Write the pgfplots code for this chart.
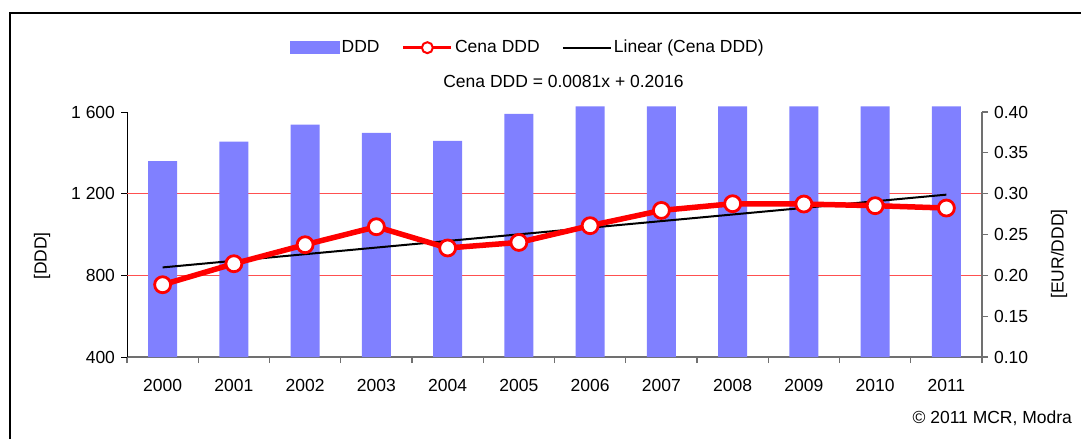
\documentclass[border=0pt]{standalone}
\usepackage{fontspec}
\setmainfont{Liberation Sans}
\usepackage{pgfplots}
\pgfplotsset{compat=1.18}
\definecolor{barblue}{HTML}{8080FF}
\definecolor{gridred}{HTML}{FF5050}
\definecolor{axgray}{HTML}{707070}
\begin{document}
\fontsize{17.5}{21}\selectfont
\begin{tikzpicture}
\pgfplotsset{
  base/.style={at={(127pt,-357pt)}, anchor=south west, scale only axis,
    width=855pt, height=245pt, xmin=-0.5, xmax=11.5, clip=false,
    tick align=outside, major tick length=6pt, axis line style={-}},
}
\begin{axis}[base, ymin=400, ymax=1600,
  axis y line*=left, axis x line*=bottom,
  ytick={400,800,1200,1600}, yticklabels={400,800,1 200,1 600},
  y axis line style={black, line width=1pt},
  every y tick/.style={black, line width=1pt},
  xtick={-0.5,0.5,...,11.5}, x tick label as interval,
  xticklabels={2000,2001,2002,2003,2004,2005,2006,2007,2008,2009,2010,2011},
  x axis line style={axgray, line width=1.2pt},
  every x tick/.style={axgray, line width=1.2pt},
  xticklabel style={yshift=-10pt},
]
\addplot[draw=gridred, line width=1.4pt, sharp plot, forget plot] coordinates {(-0.5,800) (11.5,800)};
\addplot[draw=gridred, line width=1.4pt, sharp plot, forget plot] coordinates {(-0.5,1200) (11.5,1200)};
\addplot[ybar, bar width=0.41, bar shift=0pt, fill=barblue, draw=none] coordinates {
(0,1360) (1,1455) (2,1538) (3,1498) (4,1459) (5,1591)
(6,1627) (7,1627) (8,1627) (9,1627) (10,1627) (11,1627)};
\end{axis}
\begin{axis}[base, ymin=0.1, ymax=0.4,
  axis y line*=right, axis x line=none,
  ytick={0.1,0.15,0.2,0.25,0.3,0.35,0.4},
  yticklabels={0.10,0.15,0.20,0.25,0.30,0.35,0.40},
  y axis line style={axgray, line width=1.2pt},
  every y tick/.style={axgray, line width=1.2pt},
  legend columns=3,
  legend cell align=left,
  legend style={draw=none, fill=none, at={(0.469,1.2625)}, anchor=center,
    /tikz/every even column/.append style={column sep=20pt}},
]
\addlegendimage{legend image code/.code={\fill[barblue] (-3pt,-6pt) rectangle (46pt,6pt);}}
\addlegendentry{DDD}
\addlegendimage{legend image code/.code={\draw[red, line width=3.5pt] (-3pt,0pt) -- (45pt,0pt);
    \draw[red, fill=white, line width=2pt] (21pt,0pt) circle (5.5pt);}}
\addlegendentry{Cena DDD}
\addlegendimage{legend image code/.code={\draw[black, line width=2.2pt] (-3pt,0pt) -- (45pt,0pt);}}
\addlegendentry{Linear (Cena DDD)}
\addplot[black, line width=2pt, forget plot]
  coordinates {(0,0.2097) (11,0.2988)};
\addplot[red, line width=5.5pt, mark=*, mark size=8pt, forget plot,
  mark options={fill=white, draw=red, line width=2.8pt}]
  coordinates {
(0,0.1885) (1,0.2142) (2,0.2375) (3,0.2595) (4,0.2335) (5,0.2403)
(6,0.2608) (7,0.2795) (8,0.2877) (9,0.2873) (10,0.2853) (11,0.2824)};
\end{axis}
\node at (563.5pt,-81pt) {Cena DDD = 0.0081x + 0.2016};
\node[rotate=90] at (42pt,-256pt) {[DDD]};
\node[rotate=90] at (1059pt,-254pt) {[EUR/DDD]};
\node[anchor=east] at (1078pt,-418pt) {© 2011 MCR, Modra};
\draw[line width=1.5pt] (10pt,-439pt) -- (10pt,-13pt) -- (1081pt,-13pt);
\pgfresetboundingbox
\path[use as bounding box] (0pt,0pt) rectangle (1081pt,-439pt);
\end{tikzpicture}
\end{document}
